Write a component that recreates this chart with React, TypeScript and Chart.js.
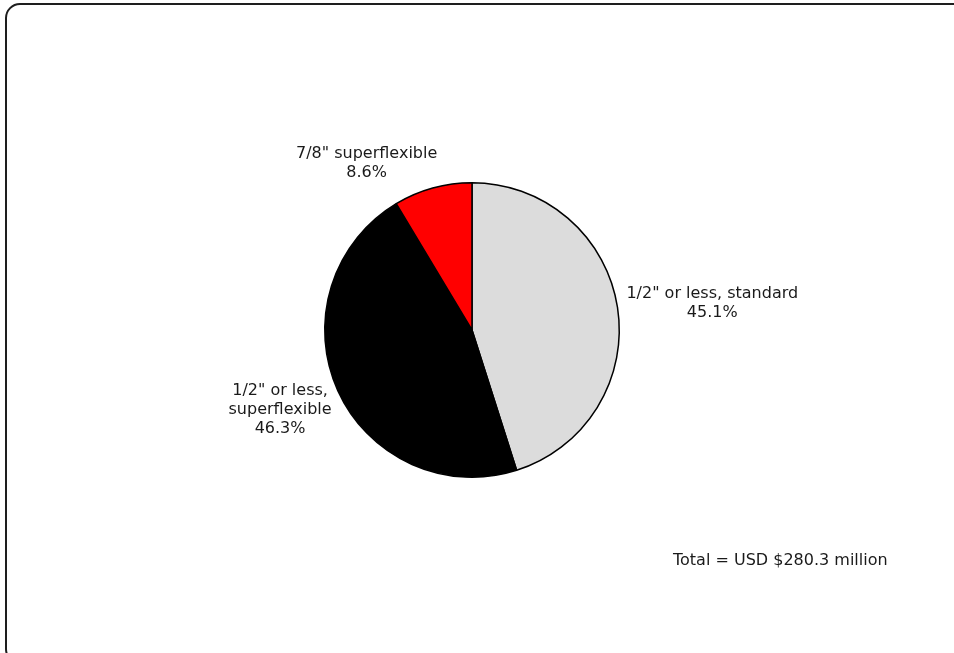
import React, { useEffect, useRef } from "react";
import { Chart, registerables } from "chart.js";

Chart.register(...registerables);

const categories: string[][] = [
  ['1/2" or less, standard'],
  ['1/2" or less,', "superflexible"],
  ['7/8" superflexible'],
];
const shares: number[] = [45.1, 46.3, 8.6];
const sliceColors: string[] = ["#dcdcdc", "#000000", "#ff0000"];
const totalNote = "Total = USD $280.3 million";

const FONT = "16px 'DejaVu Sans', Verdana, sans-serif";
const LINE_H = 19;
// small style nudges for label placement [x, y]
const labelNudge: number[][] = [[0, 0], [2, 4], [7, 2]];

const framePlugin = {
  id: "frame",
  beforeDraw(chart: any) {
    const ctx = chart.ctx as CanvasRenderingContext2D;
    ctx.save();
    ctx.fillStyle = "#ffffff";
    ctx.fillRect(0, 0, chart.width, chart.height);
    ctx.strokeStyle = "#1e1e1e";
    ctx.lineWidth = 2;
    ctx.beginPath();
    (ctx as any).roundRect(6, 4, chart.width + 20, chart.height + 6, 14);
    ctx.stroke();
    ctx.restore();
  },
};

const labelPlugin = {
  id: "sliceLabels",
  afterDraw(chart: any) {
    const ctx = chart.ctx as CanvasRenderingContext2D;
    const meta = chart.getDatasetMeta(0);
    ctx.save();
    ctx.font = FONT;
    ctx.fillStyle = "#1a1a1a";
    ctx.textBaseline = "middle";
    ctx.textAlign = "center";
    meta.data.forEach((arc: any, i: number) => {
      const mid = (arc.startAngle + arc.endAngle) / 2;
      const dx = Math.cos(mid);
      const dy = Math.sin(mid);
      const dist = arc.outerRadius + 9;
      const ax = arc.x + dx * dist;
      const ay = arc.y + dy * dist;
      const lines = [...categories[i], shares[i].toFixed(1) + "%"];
      const w = Math.max(...lines.map((l) => ctx.measureText(l).width));
      const h = lines.length * LINE_H;
      const cx = (dx >= 0 ? ax + w / 2 : ax - w / 2) + labelNudge[i][0];
      const cy = ay + (dy * h) / 2 + labelNudge[i][1];
      lines.forEach((l, k) => {
        ctx.fillText(l, cx, cy - h / 2 + LINE_H / 2 + k * LINE_H);
      });
    });
    ctx.textAlign = "left";
    ctx.fillText(totalNote, 673, 561);
    ctx.restore();
  },
};

export default function App() {
  const ref = useRef<HTMLCanvasElement | null>(null);
  useEffect(() => {
    document.body.style.margin = "0";
    const chart = new Chart(ref.current as HTMLCanvasElement, {
      type: "pie",
      data: {
        labels: categories.map((c) => c.join(" ")),
        datasets: [
          {
            data: shares,
            backgroundColor: sliceColors,
            borderColor: "#000000",
            borderWidth: 1.5,
          },
        ],
      },
      options: {
        animation: false,
        responsive: false,
        layout: { padding: { left: 324, right: 334, top: 182, bottom: 175 } },
        plugins: {
          legend: { display: false },
          tooltip: { enabled: false },
        },
      },
      plugins: [framePlugin, labelPlugin],
    });
    return () => chart.destroy();
  }, []);
  return (
    <div style={{ width: 954, height: 653 }}>
      <canvas ref={ref} width={954} height={653} style={{ display: "block" }} />
    </div>
  );
}
